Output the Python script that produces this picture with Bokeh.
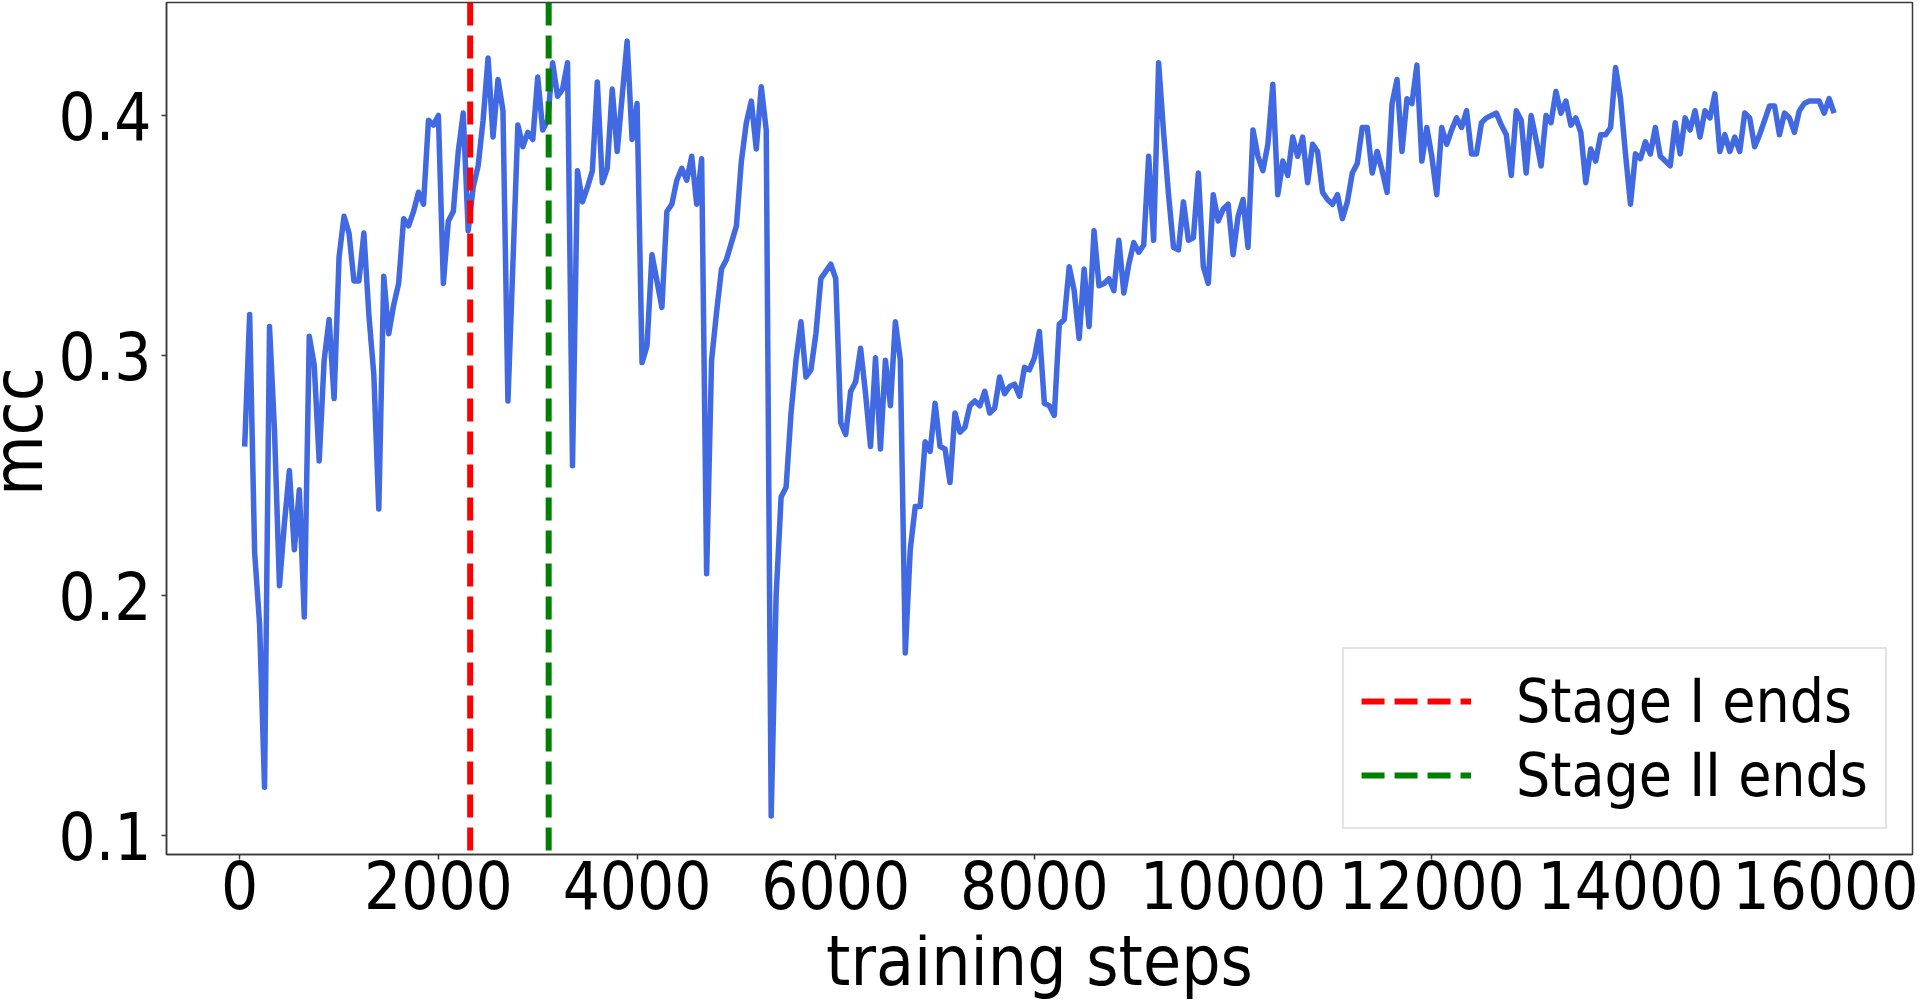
import math
from bokeh.plotting import figure
from bokeh.layouts import gridplot
from bokeh.models import Range1d, FixedTicker, Span, Legend, LegendItem
from bokeh.core.properties import value
from bokeh.embed import file_html
from bokeh.resources import INLINE

# ---- data ----
steps = list(range(50, 16051, 50))
mcc = [
    0.262, 0.317, 0.218, 0.188, 0.120, 0.312, 0.269, 0.204, 0.230, 0.252,
    0.219, 0.244, 0.191, 0.308, 0.296, 0.256, 0.298, 0.315, 0.282, 0.341,
    0.358, 0.351, 0.331, 0.331, 0.351, 0.317, 0.292, 0.236, 0.333, 0.309,
    0.321, 0.330, 0.357, 0.354, 0.360, 0.368, 0.363, 0.398, 0.396, 0.400,
    0.330, 0.356, 0.360, 0.385, 0.401, 0.352, 0.370, 0.379, 0.398, 0.424,
    0.391, 0.415, 0.402, 0.281, 0.338, 0.396, 0.387, 0.393, 0.390, 0.416,
    0.394, 0.398, 0.422, 0.408, 0.411, 0.422, 0.254, 0.377, 0.364, 0.370,
    0.377, 0.414, 0.372, 0.378, 0.411, 0.385, 0.408, 0.431, 0.390, 0.405,
    0.297, 0.304, 0.342, 0.331, 0.320, 0.360, 0.363, 0.373, 0.378, 0.373,
    0.383, 0.363, 0.382, 0.209, 0.298, 0.318, 0.336, 0.340, 0.347, 0.354,
    0.381, 0.397, 0.406, 0.386, 0.412, 0.394, 0.108, 0.200, 0.241, 0.245,
    0.276, 0.298, 0.314, 0.291, 0.294, 0.309, 0.332, 0.335, 0.338, 0.332,
    0.272, 0.267, 0.285, 0.289, 0.303, 0.284, 0.262, 0.299, 0.261, 0.298,
    0.279, 0.314, 0.298, 0.176, 0.219, 0.237, 0.237, 0.264, 0.260, 0.280,
    0.262, 0.261, 0.247, 0.276, 0.268, 0.270, 0.279, 0.281, 0.279, 0.285,
    0.276, 0.278, 0.291, 0.284, 0.287, 0.288, 0.283, 0.295, 0.294, 0.299,
    0.310, 0.280, 0.279, 0.275, 0.313, 0.315, 0.337, 0.327, 0.307, 0.336,
    0.312, 0.352, 0.329, 0.330, 0.332, 0.327, 0.348, 0.326, 0.338, 0.347,
    0.343, 0.346, 0.383, 0.348, 0.422, 0.393, 0.367, 0.345, 0.344, 0.364,
    0.348, 0.349, 0.376, 0.337, 0.330, 0.367, 0.356, 0.361, 0.363, 0.342,
    0.358, 0.365, 0.345, 0.394, 0.383, 0.377, 0.388, 0.413, 0.367, 0.381,
    0.375, 0.391, 0.383, 0.391, 0.372, 0.388, 0.385, 0.368, 0.365, 0.363,
    0.367, 0.357, 0.364, 0.376, 0.380, 0.395, 0.395, 0.376, 0.385, 0.377,
    0.368, 0.405, 0.415, 0.385, 0.407, 0.405, 0.421, 0.381, 0.395, 0.383,
    0.367, 0.395, 0.388, 0.394, 0.399, 0.395, 0.402, 0.384, 0.384, 0.397,
    0.399, 0.400, 0.401, 0.396, 0.392, 0.375, 0.402, 0.398, 0.376, 0.400,
    0.390, 0.379, 0.400, 0.397, 0.410, 0.401, 0.406, 0.396, 0.399, 0.393,
    0.372, 0.386, 0.381, 0.392, 0.392, 0.395, 0.420, 0.407, 0.384, 0.363,
    0.384, 0.382, 0.389, 0.384, 0.395, 0.383, 0.381, 0.379, 0.397, 0.384,
    0.399, 0.394, 0.402, 0.391, 0.402, 0.399, 0.409, 0.385, 0.392, 0.385,
    0.391, 0.385, 0.401, 0.399, 0.387, 0.392, 0.398, 0.404, 0.404, 0.392,
    0.401, 0.399, 0.393, 0.402, 0.405, 0.406, 0.406, 0.406, 0.401, 0.407,
    0.401,
]
stage_ends = [2320, 3110]
stage_labels = ["Stage I ends", "Stage II ends"]
stage_colors = ["#ff0000", "#008000"]
x_ticks = [0, 2000, 4000, 6000, 8000, 10000, 12000, 14000, 16000]
y_ticks = [0.1, 0.2, 0.3, 0.4]
x_title = "training steps"
y_title = "mcc"

FONT = "DejaVu Sans Condensed, DejaVu Sans"
NAN = float("nan")
TOTAL_W = 1918
LEFT_W = 46          # strip for the y title
MAIN_H = 934         # main plot height
BOT_H = 66           # strip for the x title
TOP, BOTTOM = 2, 80  # main frame borders
LB, RB = 120, 6      # main left/right borders
MAIN_W = TOTAL_W - LEFT_W


def strip(width, height, xr, yr, **borders):
    f = figure(width=width, height=height, output_backend="svg",
               toolbar_location=None, x_range=xr, y_range=yr,
               x_axis_type=None, y_axis_type=None, **borders)
    f.outline_line_color = None
    f.grid.visible = False
    f.background_fill_color = "white"
    f.border_fill_color = "white"
    return f


# ---- y title strip (pixel-like ranges) ----
lab = strip(LEFT_W, MAIN_H, Range1d(0, LEFT_W), Range1d(BOTTOM, MAIN_H - TOP),
            min_border_left=0, min_border_right=0,
            min_border_top=TOP, min_border_bottom=BOTTOM)
lab.text(x=[17], y=[MAIN_H - 431], text=[y_title], angle=math.pi / 2,
         text_align="center", text_baseline="alphabetic",
         text_font=value(FONT), text_font_size="69px", text_color="black")

# ---- x title strip ----
bot = strip(MAIN_W, BOT_H, Range1d(0, 1), Range1d(0, BOT_H),
            min_border_left=LB, min_border_right=RB,
            min_border_top=0, min_border_bottom=0)
bot.text(x=[0.5], y=[39.5], text=[x_title], text_align="center",
         text_baseline="alphabetic", text_font=value(FONT),
         text_font_size="69px", text_color="black")

# ---- main chart ----
p = figure(width=MAIN_W, height=MAIN_H, output_backend="svg",
           toolbar_location=None,
           x_range=Range1d(-737, 16839), y_range=Range1d(0.09196, 0.4471),
           min_border_left=LB, min_border_right=RB,
           min_border_top=TOP, min_border_bottom=BOTTOM)
p.background_fill_color = "white"
p.border_fill_color = "white"
p.grid.visible = False
p.outline_line_color = "#3a3a3a"
p.outline_line_width = 1.5

for ax, ticks in ((p.xaxis[0], x_ticks), (p.yaxis[0], y_ticks)):
    ax.ticker = FixedTicker(ticks=ticks)
    ax.axis_line_color = "#3a3a3a"
    ax.axis_line_width = 1.5
    ax.major_tick_line_color = "#3a3a3a"
    ax.major_tick_line_width = 1.5
    ax.major_tick_out = 5
    ax.major_tick_in = 0
    ax.minor_tick_out = 0
    ax.minor_tick_in = 0
    ax.major_label_text_font = FONT
    ax.major_label_text_font_size = "65px"
    ax.major_label_text_color = "black"

p.xaxis[0].major_label_standoff = 0
p.yaxis[0].major_label_standoff = 10

p.line(steps, mcc, line_color="#4169e1", line_width=5.5, line_join="round")

items = []
for s, lab_txt, col in zip(stage_ends, stage_labels, stage_colors):
    p.add_layout(Span(location=s, dimension="height", line_color=col,
                      line_width=6, line_dash="23 10"))
    r = p.line([s, s], [NAN, NAN], line_color=col, line_width=6,
               line_dash="23 10")
    items.append(LegendItem(label=lab_txt, renderers=[r]))

legend = Legend(items=items, location="bottom_right", margin=25,
                glyph_width=110, glyph_height=20, label_standoff=45,
                padding=17, spacing=4, label_height=60,
                label_text_font=FONT, label_text_font_size="60px",
                label_text_color="black",
                border_line_color="#c8c8c8", border_line_width=2,
                background_fill_color="white", background_fill_alpha=1.0)
p.add_layout(legend)

grid = gridplot([[lab, p], [None, bot]], toolbar_location=None)
open("out.html", "w").write(file_html(grid, INLINE))
